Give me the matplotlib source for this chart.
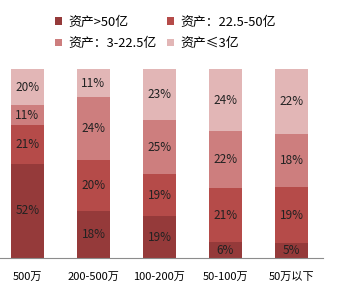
import matplotlib
matplotlib.use("Agg")
import matplotlib.pyplot as plt
import numpy as np

plt.rcParams['font.family'] = ['Noto Sans CJK SC', 'DejaVu Sans']

categories = ["500万", "200-500万", "100-200万", "50-100万", "50万以下"]
series_names = ["资产>50亿", "资产：22.5-50亿", "资产：3-22.5亿", "资产≤3亿"]
above_50 = [52, 18, 19, 6, 5]
from_22_to_50 = [21, 20, 19, 21, 19]
from_3_to_22 = [11, 24, 25, 22, 18]
below_3 = [20, 11, 23, 24, 22]
colors = ["#953A3A", "#B54B49", "#CD7E7E", "#E2B6B6"]

series = [above_50, from_22_to_50, from_3_to_22, below_3]
raw = np.array(series, dtype=float)
share = raw / raw.sum(axis=0)  # 100% stacked

fig = plt.figure(figsize=(3.47, 2.92), dpi=100)
ax = fig.add_axes([0, 34 / 292, 323 / 347, 189 / 292])

x = np.arange(len(categories))
bottom = np.zeros(len(categories))
handles = []
for name, vals, pct, col in zip(series_names, series, share, colors):
    bars = ax.bar(x, pct, width=0.5, bottom=bottom, color=col, label=name)
    handles.append(bars)
    for xi, b, h, v in zip(x, bottom, pct, vals):
        ax.text(xi, b + h / 2, f"{v}%", ha="center", va="center",
                fontsize=8.5, color="#222222")
    bottom += pct

ax.set_xlim(-27.5 / 66, (323 - 27.5) / 66)
ax.set_ylim(0, 1)
ax.set_xticks(x)
ax.set_xticklabels(categories, fontsize=8)
ax.tick_params(axis="x", length=0, pad=10)
ax.set_yticks([])
for side in ["top", "right", "left"]:
    ax.spines[side].set_visible(False)
ax.spines["bottom"].set_color("#8c8c8c")

order = [0, 2, 1, 3]
fig.legend([handles[i] for i in order], [series_names[i] for i in order],
           ncol=2, loc="upper left", bbox_to_anchor=(43 / 347, 1 - 4 / 292),
           frameon=False, fontsize=9.3, handlelength=0.55, handleheight=0.55,
           handletextpad=0.5, columnspacing=0.8, labelspacing=0.65)

fig.savefig("out.png", dpi=100)
